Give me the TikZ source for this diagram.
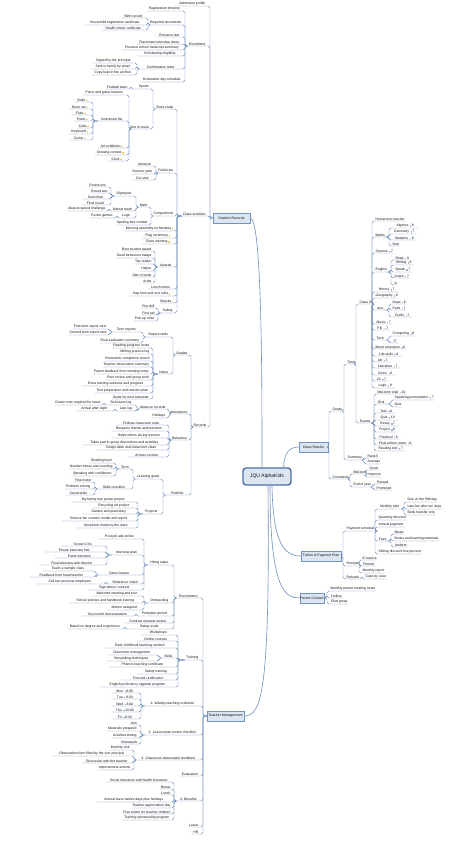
\documentclass[tikz,border=0pt]{standalone}
\usepackage{fontspec}
\setmainfont{Liberation Sans}
\definecolor{linec}{HTML}{6F8FBD}
\definecolor{boxf}{HTML}{DCE6F2}
\definecolor{boxb}{HTML}{7393C0}
\definecolor{cenb}{HTML}{4D6EA8}
\definecolor{txtc}{HTML}{111111}
\definecolor{icoc}{HTML}{9DB4D6}
\definecolor{starc}{HTML}{EFCB6A}
\newcommand\lfs{\fontsize{3.4}{3.8}\selectfont}
\newcommand\ico{\,\textcolor{icoc}{\rule{1.3pt}{1.3pt}}\,}
\newcommand\stw{\,\textcolor{starc}{\rule{1.6pt}{1.6pt}}}
\tikzset{
 conn/.style={draw=linec,line width=0.45pt,rounded corners=1.8pt},
 mconn/.style={draw=linec,line width=0.6pt},
 lt/.style={inner xsep=0.4pt,inner ysep=0.5pt,font=\lfs,text=txtc},
 mainbox/.style={draw=boxb,fill=boxf,line width=0.5pt,font=\fontsize{3.5}{4}\selectfont,text=txtc,inner sep=0pt,minimum height=10pt},
}
% left-side topic: name, parent anchor, x-left, x-right, y (underline), text
\newcommand\Lq[6]{\node[lt,anchor=south east,minimum width={(#4-#3)*1pt}] (#1) at (#4,#5) {#6};
 \draw[conn] (#2) -| ([xshift=3pt]#1.south east) -- (#1.south west);}
% right-side topic
\newcommand\Rq[6]{\node[lt,anchor=south west,minimum width={(#4-#3)*1pt}] (#1) at (#3,#5) {#6};
 \draw[conn] (#2) -| ([xshift=-3pt]#1.south west) -- (#1.south east);}
\begin{document}
\begin{tikzpicture}[x=1pt,y=-1pt]
\fill[white] (0,0) rectangle (460,845);
\useasboundingbox (0,0) rectangle (460,845);

% ---------- centre and main topics
\node[draw=cenb,fill=boxf,line width=1.4pt,rounded corners=3pt,minimum width=48pt,minimum height=17pt,inner sep=0pt,font=\fontsize{5}{6}\selectfont,text=txtc] (C) at (267,476.5) {JQU AlphaKids};
\node[mainbox,minimum width=37pt] (L1) at (231.5,218) {Student Records};
\node[mainbox,minimum width=37pt] (L2) at (225.5,716) {Teacher Management};
\node[mainbox,minimum width=29pt] (R1) at (313.5,447) {Class Results};
\node[mainbox,minimum width=40pt] (R2) at (321,556) {Tuition \& Payment Plan};
\node[mainbox,minimum width=24pt] (R3) at (312,598) {Parent Contact};

\draw[mconn] (L1.east) .. controls (262,218) and (262,380) .. ([xshift=-5pt]C.north);
\draw[mconn] ([xshift=1pt]C.south) .. controls (270,690) and (262,716) .. (L2.east);
\draw[mconn] ([xshift=-8pt]C.north east) .. controls (284,452) and (290,447) .. (R1.west);
\draw[mconn] ([xshift=5pt]C.south) .. controls (273,545) and (285,556) .. (R2.west);
\draw[mconn] ([xshift=3pt]C.south) .. controls (270,590) and (285,598) .. (R3.west);

% ---------- L1 tree
\Lq{La}{L1.west}{178}{207}{6}{Admission profile}
\Lq{Lb}{L1.west}{188}{207}{46}{Enrollment}
\Lq{Lc}{L1.west}{182}{207}{216}{Class activities}
\Lq{Ld}{L1.west}{197}{207}{427}{Records}

\Lq{Lb1}{Lb.south west}{147}{182}{11}{Registration timeline}
\Lq{Lb2}{Lb.south west}{152}{182}{25}{Required documents}
\Lq{Lb21}{Lb2.south west}{122}{145}{18}{Birth record}
\Lq{Lb22}{Lb2.south west}{85}{145}{25}{Household registration certificate}
\Lq{Lb23}{Lb2.south west}{102}{145}{30}{Health check certificate}
\Lq{Lb3}{Lb.south west}{157}{182}{37}{Entrance test}
\Lq{Lb4}{Lb.south west}{137}{182}{44}{Placement interview notes}
\Lq{Lb5}{Lb.south west}{122}{182}{50}{Previous school transcript summary}
\Lq{Lb6}{Lb.south west}{138}{182}{56}{Scholarship eligibility}
\Lq{Lb7}{Lb.south west}{140}{182}{69}{Confirmation letter}
\Lq{Lb71}{Lb7.south west}{93}{134}{63}{Signed by the principal}
\Lq{Lb72}{Lb7.south west}{92}{134}{69}{Sent to family by email}
\Lq{Lb73}{Lb7.south west}{92}{134}{75}{Copy kept in the archive}
\Lq{Lb8}{Lb.south west}{142}{182}{82}{Orientation day schedule}

\Lq{Lc1}{Lc.south west}{157}{174}{109}{Extra clubs}
\Lq{Lc1a}{Lc1.south west}{138}{150}{89}{Sports}
\Lq{Lc1a1}{Lc1a.south west}{108}{128}{89}{Football team}
\Lq{Lc1b}{Lc1.south west}{132}{150}{129}{Arts \& music}
\Lq{Lc1b1}{Lc1b.south west}{83}{126}{95}{Piano and guitar lessons}
\Lq{Lc1b2}{Lc1b.south west}{98}{126}{121}{Instrument list}
\Lq{Lc1b2a}{Lc1b2.south west}{75}{90}{102}{Violin\stw}
\Lq{Lc1b2b}{Lc1b2.south west}{70}{90}{109}{Drum set\stw}
\Lq{Lc1b2c}{Lc1b2.south west}{72}{90}{115}{Flute\stw}
\Lq{Lc1b2d}{Lc1b2.south west}{75}{90}{121}{Piano\stw}
\Lq{Lc1b2e}{Lc1b2.south west}{78}{90}{128}{Cello\stw}
\Lq{Lc1b2f}{Lc1b2.south west}{70}{90}{134}{Keyboard\stw}
\Lq{Lc1b2g}{Lc1b2.south west}{70}{90}{140}{Guitar\stw}
\Lq{Lc1b3}{Lc1b.south west}{98}{126}{148}{Art exhibition\stw}
\Lq{Lc1b4}{Lc1b.south west}{95}{126}{155}{Drawing contest\stw}
\Lq{Lc1b5}{Lc1b.south west}{108}{126}{161}{Choir\stw}
\Lq{Lc2}{Lc.south west}{158}{174}{173}{Field trips}
\Lq{Lc21}{Lc2.south west}{137}{153}{166}{Museum}
\Lq{Lc22}{Lc2.south west}{132}{153}{174}{Science park}
\Lq{Lc23}{Lc2.south west}{132}{153}{180}{Zoo visit}
\Lq{Lc3}{Lc.south west}{155}{174}{216}{Competitions}
\Lq{Lc3a}{Lc3.south west}{140}{148}{207}{Math}
\Lq{Lc3a1}{Lc3a.south west}{115}{133}{196}{Olympiad}
\Lq{Lc3a1a}{Lc3a1.south west}{88}{108}{187}{Round one}
\Lq{Lc3a1b}{Lc3a1.south west}{93}{108}{193}{Round two}
\Lq{Lc3a1c}{Lc3a1.south west}{83}{108}{199}{Semi final}
\Lq{Lc3a1d}{Lc3a1.south west}{83}{108}{205}{Final round}
\Lq{Lc3a2}{Lc3a.south west}{112}{133}{211}{Mental math}
\Lq{Lc3a2a}{Lc3a2.south west}{73}{106}{211}{Abacus speed challenge}
\Lq{Lc3a3}{Lc3a.south west}{120}{133}{218}{Logic}
\Lq{Lc3a3a}{Lc3a3.south west}{90}{114}{218}{Puzzle games}
\Lq{Lc3b}{Lc3.south west}{120}{148}{225}{Spelling bee contest}
\Lq{Lc4}{Lc.south west}{128}{174}{231}{Morning assembly on Monday\stw}
\Lq{Lc5}{Lc.south west}{142}{174}{238}{Flag ceremony\stw}
\Lq{Lc6}{Lc.south west}{142}{174}{244}{Class meeting\stw}
\Lq{Lc7}{Lc.south west}{158}{174}{267}{Awards}
\Lq{Lc71}{Lc7.south west}{122}{152}{251}{Best student award}
\Lq{Lc72}{Lc7.south west}{117}{152}{258}{Good behaviour badge}
\Lq{Lc73}{Lc7.south west}{137}{152}{264}{Top reader}
\Lq{Lc74}{Lc7.south west}{142}{152}{271}{Helper}
\Lq{Lc75}{Lc7.south west}{137}{152}{277}{Star of week}
\Lq{Lc76}{Lc7.south west}{143}{152}{283}{Artist}
\Lq{Lc8}{Lc.south west}{148}{174}{289}{Lunch menu}
\Lq{Lc9}{Lc.south west}{130}{174}{296}{Nap time and rest rules\stw}
\Lq{Lc10}{Lc.south west}{160}{174}{303}{Snacks\stw}
\Lq{Lc11}{Lc.south west}{162}{174}{313}{Safety}
\Lq{Lc111}{Lc11.south west}{143}{155}{308}{Fire drill}
\Lq{Lc112}{Lc11.south west}{147}{155}{315}{First aid}
\Lq{Lc113}{Lc11.south west}{140}{155}{321}{Pick-up rules}

\Lq{Ld1}{Ld.south west}{177}{188}{355}{Grades}
\Lq{Ld1a}{Ld1.south west}{147}{170}{337}{Report cards}
\Lq{Ld1a1}{Ld1a.south west}{113}{140}{332}{Term reports}
\Lq{Ld1a1a}{Ld1a1.south west}{73}{107}{329}{First term report card}
\Lq{Ld1a1b}{Ld1a1.south west}{72}{107}{335}{Second term report card}
\Lq{Ld1a2}{Ld1a.south west}{102}{140}{343}{Final evaluation summary}
\Lq{Ld1b}{Ld1.south west}{158}{170}{374}{Notes}
\Lq{Ld1b1}{Ld1b.south west}{117}{150}{348}{Reading progress notes}
\Lq{Ld1b2}{Ld1b.south west}{120}{150}{354}{Writing practice log}
\Lq{Ld1b3}{Ld1b.south west}{107}{150}{361}{Homework completion record}
\Lq{Ld1b4}{Ld1b.south west}{103}{150}{367}{Teacher observation summary}
\Lq{Ld1b5}{Ld1b.south west}{93}{150}{374}{Parent feedback from meeting notes}
\Lq{Ld1b6}{Ld1b.south west}{107}{150}{380}{Peer review and group work}
\Lq{Ld1b7}{Ld1b.south west}{82}{150}{386}{Extra tutoring sessions and progress}
\Lq{Ld1b8}{Ld1b.south west}{95}{150}{393}{Test preparation and revision plan}
\Lq{Ld1b9}{Ld1b.south west}{112}{150}{399}{Goals for next semester}
\Lq{Ld2}{Ld.south west}{173}{188}{414}{Attendance}
\Lq{Ld2a}{Ld2.south west}{140}{166}{409}{Absence records}
\Lq{Ld2a1}{Ld2a.south west}{108}{134}{405}{Sick leave log}
\Lq{Ld2a1a}{Ld2a1.south west}{57}{101}{405}{Doctor note required for leave}
\Lq{Ld2a2}{Ld2a.south west}{118}{134}{411}{Late log}
\Lq{Ld2a2a}{Ld2a2.south west}{77}{112}{411}{Arrival after eight}
\Lq{Ld2b}{Ld2.south west}{153}{166}{418}{Holidays}
\Lq{Ld3}{Ld.south west}{173}{188}{440}{Behaviour}
\Lq{Ld31}{Ld3.south west}{117}{166}{425}{Follows classroom rules}
\Lq{Ld32}{Ld3.south west}{112}{166}{431}{Respects friends and teachers}
\Lq{Ld33}{Ld3.south west}{112}{166}{438}{Helps others during lessons}
\Lq{Ld34}{Ld3.south west}{83}{166}{445}{Takes part in group discussions and activities}
\Lq{Ld35}{Ld3.south west}{97}{166}{450}{Keeps desk and classroom clean}
\Lq{Ld36}{Ld3.south west}{128}{166}{457}{Arrives on time}
\Lq{Ld4}{Ld.south west}{167}{188}{495}{Portfolio}
\Lq{Ld4a}{Ld4.south west}{137}{160}{479}{Learning goals}
\Lq{Ld4a1}{Ld4a.south west}{120}{130}{469}{Term}
\Lq{Ld4a1a}{Ld4a1.south west}{90}{113}{463}{Reading level}
\Lq{Ld4a1b}{Ld4a1.south west}{78}{113}{469}{Number sense and counting}
\Lq{Ld4a1c}{Ld4a1.south west}{72}{113}{476}{Speaking with confidence}
\Lq{Ld4a2}{Ld4a.south west}{98}{130}{489}{Skills checklist}
\Lq{Ld4a2a}{Ld4a2.south west}{77}{92}{482}{Fine motor}
\Lq{Ld4a2b}{Ld4a2.south west}{65}{92}{489}{Problem solving}
\Lq{Ld4a2c}{Ld4a2.south west}{65}{92}{495}{Social skills}
\Lq{Ld4b}{Ld4.south west}{143}{160}{514}{Projects}
\Lq{Ld4b1}{Ld4b.south west}{72}{135}{502}{My family tree poster project}
\Lq{Ld4b2}{Ld4b.south west}{93}{135}{508}{Recycling art project}
\Lq{Ld4b3}{Ld4b.south west}{83}{135}{514}{Garden and plant diary}
\Lq{Ld4b4}{Ld4b.south west}{62}{135}{521}{Science fair volcano model and report}
\Lq{Ld4b5}{Ld4b.south west}{77}{135}{528}{Storybook made by the class}

% ---------- L2 tree
\Lq{M1}{L2.west}{177}{200}{598}{Recruitment}
\Lq{M1a}{M1.south west}{148}{171}{565}{Hiring steps}
\Lq{M1a1}{M1a.south west}{98}{141}{539}{Post job ads online}
\Lq{M1a2}{M1a.south west}{112}{141}{555}{Interview plan}
\Lq{M1a2a}{M1a2.south west}{62}{104}{546}{Screen CVs}
\Lq{M1a2b}{M1a2.south west}{45}{104}{552}{Phone interview first}
\Lq{M1a2c}{M1a2.south west}{55}{104}{558}{Panel interview}
\Lq{M1a2d}{M1a2.south west}{40}{104}{565}{Final interview with director}
\Lq{M1a3}{M1a.south west}{98}{141}{575}{Demo lesson}
\Lq{M1a3a}{M1a3.south west}{43}{93}{571}{Teach a sample class}
\Lq{M1a3b}{M1a3.south west}{30}{93}{577}{Feedback from head teacher}
\Lq{M1a4}{M1a.south west}{110}{141}{584}{Reference check}
\Lq{M1a4a}{M1a4.south west}{37}{103}{584}{Call two previous employers}
\Lq{M1a5}{M1a.south west}{88}{141}{590}{Sign labour contract}
\Lq{M1b}{M1.south west}{148}{171}{603}{Onboarding}
\Lq{M1b1}{M1b.south west}{93}{141}{596}{Welcome meeting and tour}
\Lq{M1b2}{M1b.south west}{70}{141}{603}{School policies and handbook training}
\Lq{M1b3}{M1b.south west}{108}{141}{610}{Mentor assigned}
\Lq{M1c}{M1.south west}{138}{171}{616}{Probation period}
\Lq{M1c1}{M1c.south west}{82}{133}{616}{Two month trial evaluation}
\Lq{M1d}{M1.south west}{125}{171}{623}{Contract renewal review}
\Lq{M1e}{M1.south west}{128}{171}{629}{Salary scale}
\Lq{M1e1}{M1e.south west}{68}{122}{629}{Based on degree and experience}
\Lq{M2}{L2.west}{185}{200}{660}{Training}
\Lq{M21}{M2.south west}{142}{175}{635}{Workshops}
\Lq{M22}{M2.south west}{137}{175}{641}{Online courses}
\Lq{M23}{M2.south west}{105}{175}{648}{Early childhood teaching method}
\Lq{M24}{M2.south west}{162}{175}{658}{Skills}
\Lq{M24a}{M24.south west}{108}{156}{655}{Classroom management}
\Lq{M24b}{M24.south west}{107}{156}{661}{Storytelling techniques}
\Lq{M25}{M2.south west}{110}{175}{667}{Phonics teaching certificate}
\Lq{M26}{M2.south west}{137}{175}{674}{Safety training}
\Lq{M27}{M2.south west}{122}{175}{680}{First aid certification}
\Lq{M28}{M2.south west}{100}{175}{687}{English proficiency upgrade program}
\Lq{M3}{L2.west}{145}{200}{706}{1. Weekly teaching schedule}
\Lq{M31}{M3.south west}{112}{138}{693}{Mon \ico 8:00}
\Lq{M32}{M3.south west}{112}{138}{699}{Tue \ico 9:30}
\Lq{M33}{M3.south west}{112}{138}{706}{Wed \ico 8:00}
\Lq{M34}{M3.south west}{112}{138}{712}{Thu \ico 10:00}
\Lq{M35}{M3.south west}{112}{138}{719}{Fri \ico 8:30}
\Lq{M4}{L2.west}{145}{200}{735}{2. Lesson plan review checklist}
\Lq{M41}{M4.south west}{130}{138}{725}{Aim}
\Lq{M42}{M4.south west}{107}{138}{731}{Materials prepared}
\Lq{M43}{M4.south west}{112}{138}{738}{Activities timing}
\Lq{M44}{M4.south west}{125}{138}{744}{Homework}
\Lq{M5}{L2.west}{137}{200}{760}{3. Classroom observation feedback}
\Lq{M51}{M5.south west}{110}{131}{750}{Monthly visit}
\Lq{M52}{M5.south west}{53}{131}{756}{Observation form filled by the vice principal}
\Lq{M53}{M5.south west}{83}{131}{763}{Discussion with the teacher}
\Lq{M54}{M5.south west}{100}{131}{770}{Improvement actions}
\Lq{M6}{L2.west}{180}{200}{776}{Evaluation}
\Lq{M7}{L2.west}{177}{200}{801}{4. Benefits}
\Lq{M71}{M7.south west}{107}{171}{782}{Social insurance and health insurance}
\Lq{M72}{M7.south west}{162}{171}{789}{Bonus}
\Lq{M73}{M7.south west}{162}{171}{795}{Lunch}
\Lq{M74}{M7.south west}{97}{171}{802}{Annual leave twelve days plus holidays}
\Lq{M75}{M7.south west}{137}{171}{808}{Teacher appreciation day}
\Lq{M76}{M7.south west}{125}{171}{814}{Free tuition for teacher children}
\Lq{M77}{M7.south west}{123}{171}{820}{Training sponsorship program}
\Lq{M8}{L2.west}{188}{200}{827}{Leave}
\Lq{M9}{L2.west}{192}{200}{834}{HR}

% ---------- R1 tree
\Rq{Ra}{R1.east}{332}{342}{411}{Grade}
\Rq{Rb}{R1.east}{332}{347}{479}{Comments}
\Rq{Ra1}{Ra.south east}{347}{354}{364}{Term}
\Rq{Ra2}{Ra.south east}{347}{361}{460}{Summary}
\Rq{Ra1a}{Ra1.south east}{359}{368}{304}{Class 3A}
\Rq{Ra1b}{Ra1.south east}{359}{371}{423}{Exams}
\Rq{Q1}{Ra1a.south east}{375}{398}{221}{Homeroom teacher}
\Rq{Q2}{Ra1a.south east}{375}{385}{237}{Maths}
\Rq{Q2a}{Q2.south east}{392}{418}{228}{Algebra \ico 8}
\Rq{Q2b}{Q2.south east}{392}{416}{234}{Geometry \ico 7}
\Rq{Q2c}{Q2.south east}{392}{416}{240}{Statistics \ico 8}
\Rq{Q2d}{Q2.south east}{392}{397}{246}{Oral}
\Rq{Q3}{Ra1a.south east}{375}{392}{253}{Science \ico 7}
\Rq{Q4}{Ra1a.south east}{375}{387}{272}{English}
\Rq{Q4a}{Q4.south east}{394}{410}{260}{Read \ico 8}
\Rq{Q4b}{Q4.south east}{394}{413}{265}{Writing \ico 8}
\Rq{Q4c}{Q4.south east}{394}{411}{272}{Speak \ico 7}
\Rq{Q4d}{Q4.south east}{394}{408}{278}{Listen \ico 7}
\Rq{Q4e}{Q4.south east}{394}{397}{285}{A}
\Rq{Q5}{Ra1a.south east}{375}{398}{292}{History \ico 7}
\Rq{Q6}{Ra1a.south east}{375}{398}{298}{Geography \ico 8}
\Rq{Q7}{Ra1a.south east}{375}{385}{310}{Arts}
\Rq{Q7a}{Q7.south east}{392}{405}{304}{Draw \ico 8}
\Rq{Q7b}{Q7.south east}{392}{405}{310}{Paint \ico 7}
\Rq{Q7c}{Q7.south east}{392}{412}{317}{Crafts \ico 7}
\Rq{Q8}{Ra1a.south east}{375}{392}{324}{Music \ico 7}
\Rq{Q9}{Ra1a.south east}{375}{390}{330}{P.E. \ico 7}
\Rq{Q10}{Ra1a.south east}{375}{385}{340}{Tech}
\Rq{Q10a}{Q10.south east}{392}{413}{336}{Computing \ico 8}
\Rq{Q10b}{Q10.south east}{392}{398}{343}{IT}
\Rq{Q11}{Ra1a.south east}{375}{405}{349}{Moral education \ico 8}
\Rq{Q12}{Ra1a.south east}{375}{402}{356}{Life skills \ico 8}
\Rq{Q13}{Ra1a.south east}{375}{390}{362}{Art \ico 7}
\Rq{Q14}{Ra1a.south east}{375}{400}{368}{Literature \ico 7}
\Rq{Q15}{Ra1a.south east}{375}{395}{375}{Civics \ico 8}
\Rq{Q16}{Ra1a.south east}{375}{388}{381}{Dr \ico 7}
\Rq{Q17}{Ra1a.south east}{375}{395}{388}{Logic \ico 8}
\Rq{E1}{Ra1b.south east}{377}{405}{394}{Mid-term total \ico 10}
\Rq{E2}{Ra1b.south east}{377}{385}{404}{Oral}
\Rq{E2a}{E2.south east}{394}{428}{400}{Speaking presentation \ico 7}
\Rq{E2b}{E2.south east}{394}{401}{407}{Quiz}
\Rq{E3}{Ra1b.south east}{377}{395}{413}{Test \ico 8}
\Rq{E4}{Ra1b.south east}{377}{398}{420}{Quiz \ico 10}
\Rq{E5}{Ra1b.south east}{377}{398}{426}{Essay \ico 7}
\Rq{E6}{Ra1b.south east}{377}{397}{432}{Project \ico 8}
\Rq{E7}{Ra1b.south east}{377}{400}{439}{Practical \ico 8}
\Rq{E8}{Ra1b.south east}{377}{413}{445}{Final written exam \ico 8}
\Rq{E9}{Ra1b.south east}{377}{404}{451}{Reading test \ico 7}
\Rq{Ra2a}{Ra2.south east}{367}{378}{458}{Rank 5}
\Rq{Ra2b}{Ra2.south east}{367}{380}{464}{Average}
\Rq{Rb1}{Rb.south east}{353}{362}{474}{Mid-term}
\Rq{Rb1a}{Rb1.south east}{368}{379}{470}{Good}
\Rq{Rb1b}{Rb1.south east}{368}{381}{477}{Improve}
\Rq{Rb2}{Rb.south east}{353}{368}{487}{End of year}
\Rq{Rb2a}{Rb2.south east}{376}{389}{484}{Passed}
\Rq{Rb2b}{Rb2.south east}{376}{391}{490}{Promoted}

% ---------- R2 tree
\Rq{S1}{R2.east}{346}{373}{531}{Payment schedule}
\Rq{S11}{S1.south east}{378}{401}{509}{Monthly plan}
\Rq{S11a}{S11.south east}{407}{437}{502}{Due on the fifth day}
\Rq{S11b}{S11.south east}{407}{437}{509}{Late fee after ten days}
\Rq{S11c}{S11.south east}{407}{430}{515}{Bank transfer only}
\Rq{S12}{S1.south east}{378}{403}{520}{Quarterly discount}
\Rq{S13}{S1.south east}{378}{397}{527}{Annual payment}
\Rq{S14}{S1.south east}{378}{387}{541}{Fees}
\Rq{S14a}{S14.south east}{394}{403}{534}{Meals}
\Rq{S14b}{S14.south east}{394}{427}{541}{Books and learning materials}
\Rq{S14c}{S14.south east}{394}{407}{547}{Uniform}
\Rq{S15}{S1.south east}{378}{407}{554}{Sibling discount five percent}
\Rq{S2}{R2.east}{346}{356}{566}{Receipts}
\Rq{S21}{S2.south east}{362}{377}{560}{E-invoice}
\Rq{S22}{S2.south east}{362}{375}{566}{Printed}
\Rq{S23}{S2.south east}{362}{380}{573}{Monthly report}
\Rq{S3}{R2.east}{346}{358}{579}{Refunds}
\Rq{S31}{S3.south east}{365}{382}{579}{Case by case}

% ---------- R3 tree
\Rq{T1}{R3.east}{330}{360}{591}{Monthly parent meeting notes}
\Rq{T2}{R3.east}{330}{343}{598}{Hotline}
\Rq{T3}{R3.east}{330}{348}{604}{Chat group}
\end{tikzpicture}
\end{document}
